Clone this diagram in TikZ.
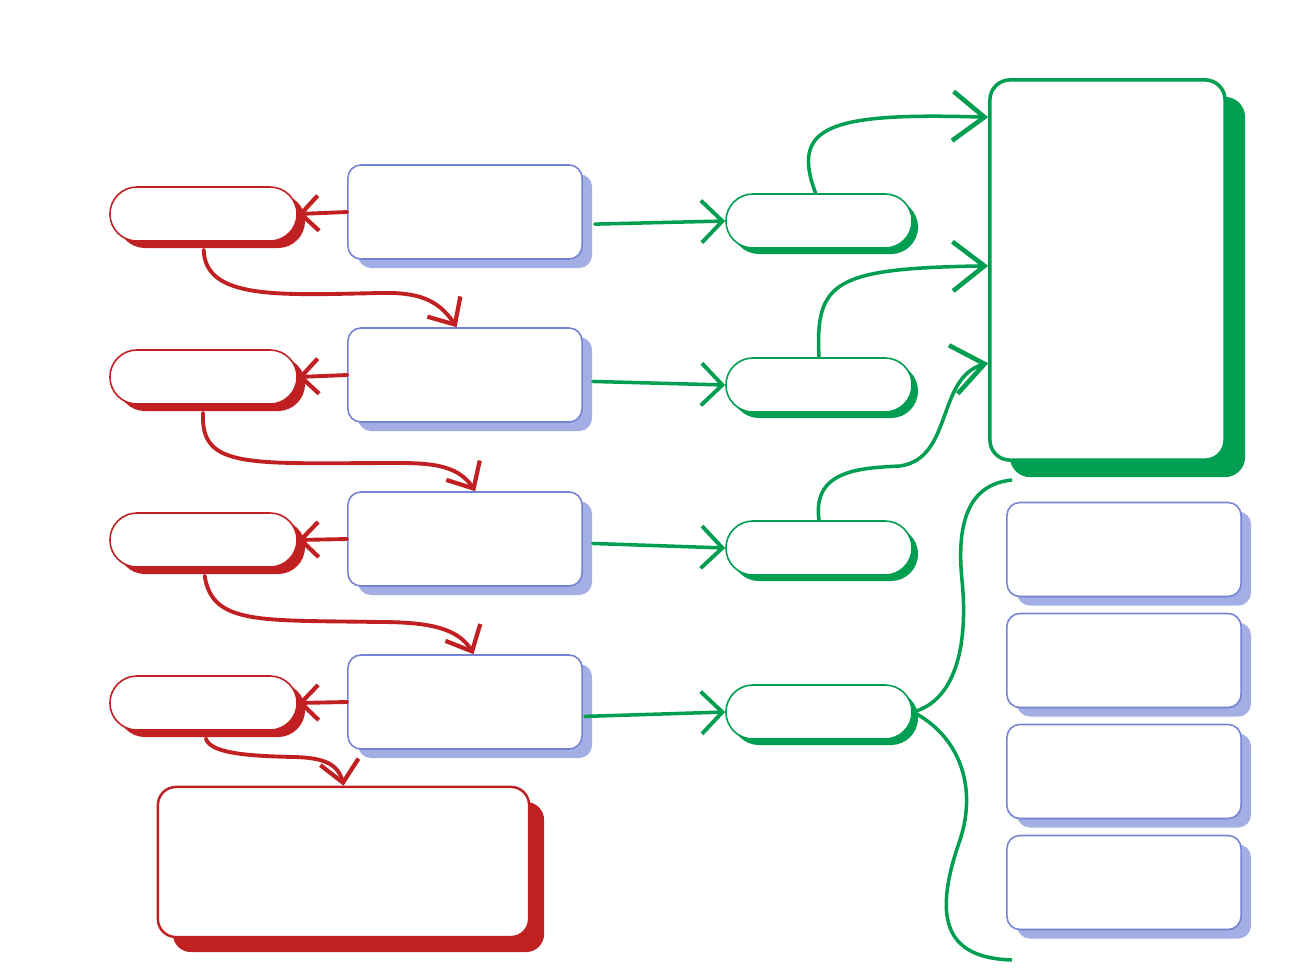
\documentclass[tikz,border=0pt]{standalone}
\usetikzlibrary{arrows.meta,bending,shadows}
\definecolor{mapred}{RGB}{193,32,34}
\definecolor{mapgreen}{RGB}{0,158,80}
\definecolor{mapblue}{RGB}{116,130,210}
\definecolor{mapshade}{RGB}{162,174,228}
\tikzset{
  redpill/.style={draw=mapred,fill=white,line width=0.45pt,minimum width=1.87cm,minimum height=0.54cm,rounded corners=0.27cm,inner sep=0pt,
    drop shadow={shadow xshift=0.08cm,shadow yshift=-0.07cm,fill=mapred,opacity=1}},
  bluebox/.style={draw=mapblue,fill=white,line width=0.45pt,minimum width=2.34cm,minimum height=0.94cm,rounded corners=0.13cm,inner sep=0pt,
    drop shadow={shadow xshift=0.1cm,shadow yshift=-0.09cm,fill=mapshade,opacity=1}},
  greenpill/.style={draw=mapgreen,fill=white,line width=0.45pt,minimum width=1.86cm,minimum height=0.54cm,rounded corners=0.27cm,inner sep=0pt,
    drop shadow={shadow xshift=0.06cm,shadow yshift=-0.06cm,fill=mapgreen,opacity=1}},
  redlink/.style={draw=mapred,line width=1.1pt,line cap=round,-{Straight Barb[length=5pt,width=10pt,line width=1.2pt]}},
  downbarb/.style={-{Straight Barb[length=6pt,width=11pt,line width=1.2pt,flex]}},
  greenlink/.style={draw=mapgreen,line width=1pt,line cap=round,-{Straight Barb[length=6pt,width=12pt,line width=1.1pt]}},
  bigbarb/.style={-{Straight Barb[length=9pt,width=14pt,line width=1.3pt,flex]}}
}
\begin{document}
\begin{tikzpicture}[x=0.01cm,y=-0.01cm,line join=round]
\useasboundingbox (0,0) rectangle (1296,972);
\node[redpill] (r1) at (203.5,214) {};
\node[redpill] (r2) at (203.5,377) {};
\node[redpill] (r3) at (203.5,540) {};
\node[redpill] (r4) at (203.5,703) {};
\node[bluebox] (b1) at (465,212) {};
\node[bluebox] (b2) at (465,375) {};
\node[bluebox] (b3) at (465,539) {};
\node[bluebox] (b4) at (465,702) {};
\node[greenpill] (g1) at (819,221) {};
\node[greenpill] (g2) at (819,385) {};
\node[greenpill] (g3) at (819,548) {};
\node[greenpill] (g4) at (819,712) {};
\node[draw=mapgreen,fill=white,line width=1pt,minimum width=2.35cm,minimum height=3.8cm,rounded corners=0.2cm,inner sep=0pt,
  drop shadow={shadow xshift=0.2cm,shadow yshift=-0.17cm,fill=mapgreen,opacity=1}] (sum) at (1107.5,270) {};
\node[bluebox] (n1) at (1124,549.5) {};
\node[bluebox] (n2) at (1124,660.5) {};
\node[bluebox] (n3) at (1124,771.5) {};
\node[bluebox] (n4) at (1124,882.5) {};
\node[draw=mapred,fill=white,line width=0.7pt,minimum width=3.71cm,minimum height=1.5cm,rounded corners=0.18cm,inner sep=0pt,
  drop shadow={shadow xshift=0.15cm,shadow yshift=-0.15cm,fill=mapred,opacity=1}] (res) at (343.5,862) {};
\coordinate (top) at (1012,480);
\coordinate (bot) at (1012,960);

\draw[redlink] (b1.west) -- (r1.east);
\draw[redlink] (b2.west) -- (r2.east);
\draw[redlink] (b3.west) -- (r3.east);
\draw[redlink] (b4.west) -- (r4.east);
\draw[redlink,downbarb,shorten <=0.08cm] (r1.south) .. controls (205,300) and (280,295) .. (380,293)
  .. controls (420,292) and (440,300) .. (b2.100);
\draw[redlink,downbarb,shorten <=0.08cm] (r2.south) .. controls (200,470) and (250,463) .. (400,463)
  .. controls (440,463) and (462,468) .. (b3.78);
\draw[redlink,downbarb,shorten <=0.08cm] (r3.south) .. controls (212,625) and (260,620) .. (380,622)
  .. controls (435,622) and (462,630) .. (b4.80);
\draw[redlink,downbarb,shorten <=0.08cm] (r4.south) .. controls (210,752) and (240,756) .. (295,757)
  .. controls (325,758) and (340,764) .. (res.north);

\draw[greenlink,shorten <=0.12cm] (b1.-6) -- (g1.west);
\draw[greenlink,shorten <=0.1cm] (b2.-3) -- (g2.west);
\draw[greenlink,shorten <=0.1cm] (b3.-2) -- (g3.west);
\draw[greenlink,shorten <=0.02cm] (b4.-7) -- (g4.west);
\draw[greenlink,bigbarb] (g1.97) .. controls (790,125) and (830,112) .. (sum.128);
\draw[greenlink,bigbarb] (g2.north) .. controls (815,280) and (835,268) .. (sum.178);
\draw[greenlink,bigbarb] (g3.north) .. controls (812,470) and (860,468) .. (900,466)
  .. controls (955,458) and (935,372) .. (sum.218);
\draw[mapgreen,line width=1pt] (g4.east) .. controls (958,700) and (968,640) .. (962,580)
  .. controls (956,520) and (970,484) .. (top);
\draw[mapgreen,line width=1pt] (g4.east) .. controls (958,735) and (978,785) .. (960,840)
  .. controls (930,925) and (950,958) .. (bot);
\end{tikzpicture}
\end{document}
